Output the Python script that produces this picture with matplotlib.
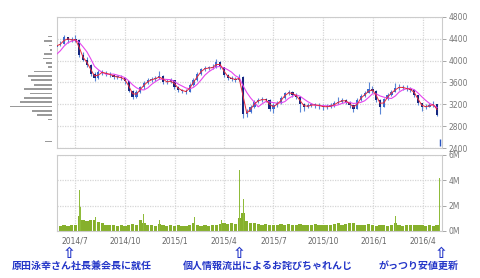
import matplotlib
matplotlib.use('Agg')
import matplotlib.pyplot as plt
import matplotlib.dates as mdates
import pandas as pd

# 週足データ (金曜終値)  最初の4週は表示範囲の手前 (移動平均用)
pre_close = [3980, 4000, 4050, 4250]
close = [4290, 4310, 4430, 4370, 4390, 4380, 4100, 4020, 3920, 3760,
         3680, 3790, 3780, 3760, 3740, 3700, 3700, 3680, 3620, 3450,
         3340, 3430, 3510, 3590, 3640, 3660, 3680, 3720, 3610, 3610,
         3640, 3520, 3470, 3440, 3430, 3560, 3650, 3760, 3840, 3865,
         3865, 3880, 3980, 3880, 3740, 3690, 3660, 3650, 3700, 3020,
         3060, 3160, 3250, 3280, 3290, 3280, 3120, 3190, 3220, 3320,
         3400, 3420, 3380, 3340, 3200, 3150, 3180, 3190, 3190, 3170,
         3150, 3160, 3170, 3220, 3250, 3280, 3250, 3180, 3120, 3280,
         3350, 3400, 3480, 3450, 3280, 3160, 3290, 3380, 3430, 3500,
         3520, 3500, 3480, 3465, 3370, 3220, 3150, 3160, 3190, 3200,
         3010]
hi = [4330, 4360, 4470, 4440, 4430, 4470, 4400, 4150, 4060, 3940,
      3790, 3820, 3830, 3810, 3790, 3760, 3740, 3730, 3700, 3630,
      3460, 3460, 3540, 3620, 3680, 3700, 3720, 3810, 3730, 3660,
      3680, 3650, 3540, 3490, 3480, 3590, 3690, 3790, 3870, 3910,
      3900, 3930, 4030, 3990, 3890, 3760, 3720, 3700, 3760, 3720,
      3110, 3190, 3280, 3320, 3330, 3320, 3290, 3220, 3260, 3350,
      3430, 3470, 3440, 3400, 3350, 3230, 3220, 3230, 3230, 3220,
      3200, 3200, 3220, 3260, 3340, 3320, 3300, 3260, 3190, 3310,
      3390, 3440, 3600, 3540, 3460, 3290, 3320, 3410, 3470, 3590,
      3570, 3560, 3560, 3510, 3480, 3380, 3230, 3200, 3230, 3260,
      3210]
lo = [4230, 4260, 4300, 4330, 4340, 4350, 4060, 3990, 3880, 3720,
      3620, 3660, 3740, 3720, 3700, 3670, 3660, 3640, 3580, 3420,
      3300, 3320, 3410, 3490, 3570, 3610, 3630, 3660, 3580, 3570,
      3590, 3490, 3430, 3400, 3390, 3420, 3540, 3630, 3740, 3810,
      3820, 3840, 3870, 3850, 3700, 3650, 3620, 3610, 3630, 2950,
      2960, 3040, 3140, 3230, 3250, 3240, 3080, 3040, 3160, 3200,
      3300, 3370, 3340, 3300, 3060, 3080, 3130, 3150, 3140, 3120,
      3100, 3110, 3130, 3160, 3200, 3230, 3200, 3140, 3060, 3120,
      3270, 3340, 3400, 3400, 3240, 3030, 3150, 3280, 3360, 3420,
      3470, 3460, 3440, 3420, 3330, 3180, 3080, 3110, 3150, 3160,
      2990]
# 最終日 (窓を開けて急落)
last_day = '2016-05-02'
last_hi, last_lo = 2560, 2440

# 出来高 (週平均, 百万株)
vol = [0.35, 0.4, 0.45, 0.4, 0.45, 0.5, 1.2, 0.9, 0.8, 0.85,
       0.9, 0.7, 0.6, 0.5, 0.45, 0.5, 0.4, 0.45, 0.4, 0.5,
       0.55, 0.5, 0.9, 0.6, 0.5, 0.45, 0.4, 0.55, 0.45, 0.4,
       0.45, 0.4, 0.45, 0.4, 0.4, 0.5, 0.6, 0.45, 0.4, 0.45,
       0.4, 0.45, 0.5, 0.55, 0.6, 0.55, 0.6, 0.55, 1.0, 1.4,
       0.8, 0.65, 0.6, 0.55, 0.5, 0.55, 0.5, 0.45, 0.5, 0.55,
       0.5, 0.55, 0.45, 0.5, 0.55, 0.5, 0.45, 0.5, 0.55, 0.45,
       0.5, 0.45, 0.5, 0.55, 0.6, 0.5, 0.55, 0.6, 0.65, 0.5,
       0.45, 0.5, 0.55, 0.45, 0.4, 0.5, 0.45, 0.4, 0.5, 0.6,
       0.45, 0.4, 0.45, 0.5, 0.45, 0.5, 0.45, 0.4, 0.45, 0.4,
       0.45]
# 出来高が突出した日
spike_days = ['2014-07-10', '2014-07-11', '2014-08-08', '2014-11-04', '2014-12-04',
              '2015-02-06', '2015-03-27', '2015-04-30', '2015-05-07', '2015-05-08',
              '2015-11-04', '2015-11-30', '2016-02-10', '2016-05-02']
spike_vol = [3.2, 1.9, 1.1, 1.35, 0.85, 1.1, 0.85, 4.8, 2.5, 1.8, 1.25, 1.5, 1.2, 4.2]

# 価格帯別出来高 (左側のグレーの棒)
prof_price = [4440, 4360, 4280, 4200, 4120, 4040, 3960, 3880, 3800, 3720, 3640,
              3560, 3480, 3400, 3320, 3240, 3160, 3080, 3000, 2920, 2520]
prof_vol = [4, 8, 3, 2, 8, 9, 6, 4, 18, 24, 21, 18, 28, 22, 28, 32, 42, 20, 15, 4, 7]

xticks = ['2014-07-01', '2014-10-01', '2015-01-01', '2015-04-01',
          '2015-07-01', '2015-10-01', '2016-01-01', '2016-04-01']
xlabels = ['2014/7', '2014/10', '2015/1', '2015/4', '2015/7', '2015/10', '2016/1', '2016/4']

notes = ['原田泳幸さん社長兼会長に就任', '個人情報流出によるお詫びちゃれんじ', 'がっつり安値更新']
note_days = ['2014-06-20', '2015-04-28', '2016-05-05']

# ---- 描画 ----
weeks = pd.date_range('2014-05-02', periods=len(pre_close) + len(close), freq='W-FRI')
xw = mdates.date2num(weeks - pd.Timedelta(days=2))
all_close = pd.Series(pre_close + close)
ma_short = all_close.rolling(2, min_periods=1).mean()
ma_long = all_close.rolling(5, min_periods=1).mean()

W, H = 480, 278
fig = plt.figure(figsize=(W / 100, H / 100), dpi=100)
ax = fig.add_axes([57 / W, 1 - 148 / H, 385 / W, 131 / H])
axv = fig.add_axes([57 / W, 1 - 231 / H, 385 / W, 76 / H])
axp = fig.add_axes([10 / W, 1 - 148 / H, 42 / W, 131 / H])

xmin = mdates.date2num(pd.Timestamp('2014-05-29'))
xmax = mdates.date2num(pd.Timestamp('2016-05-06'))
grid_kw = dict(color='#d6d6d6', linestyle=(0, (1, 1)), linewidth=0.9)
for a in (ax, axv):
    a.set_xlim(xmin, xmax)
    a.set_xticks(mdates.date2num(pd.to_datetime(xticks)))
    a.grid(True, **grid_kw)
    a.set_axisbelow(True)
    for s in a.spines.values():
        s.set_color('#cccccc')
        s.set_linewidth(0.8)
    a.yaxis.tick_right()
    a.tick_params(axis='y', length=3, width=0.6, color='#999999', labelsize=5.5,
                  labelcolor='#777777', pad=1.5)
    a.tick_params(axis='x', length=0, labelsize=5.5, labelcolor='#666666', pad=4)

# ローソク足
n0 = len(pre_close)
for i in range(len(close)):
    o = all_close[n0 + i - 1]
    c = close[i]
    x = xw[n0 + i]
    ax.vlines(x, lo[i], hi[i], color='#5a86d6', linewidth=0.8, zorder=2)
    col = '#3a6ad0' if c >= o else '#15277f'
    ax.bar(x, max(abs(c - o), 20), bottom=min(o, c), width=4.2, color=col,
           linewidth=0, zorder=3)
xl = mdates.date2num(pd.Timestamp(last_day))
ax.vlines(xl, last_lo, last_hi, color='#2a55c0', linewidth=1.0, zorder=3)

ax.plot(xw, ma_long, color='#e645ee', linewidth=0.8, zorder=4)
ax.plot(xw, ma_short, color='#e8283c', linewidth=0.7, zorder=5)
ax.set_ylim(2400, 4800)
ax.set_yticks(range(2400, 4801, 400))
ax.set_xticklabels([])

# 出来高
axv.bar(mdates.date2num(weeks[n0:] - pd.Timedelta(days=2)), vol, width=6,
        color='#86b02c', linewidth=0, zorder=2)
axv.bar(mdates.date2num(pd.to_datetime(spike_days)), spike_vol, width=1.3,
        color='#8fbb3a', linewidth=0, zorder=3)
axv.set_ylim(0, 6)
axv.set_yticks([0, 2, 4, 6])
axv.set_yticklabels([f'{v}M' for v in [0, 2, 4, 6]])
axv.set_xticklabels(xlabels)

# 価格帯別出来高
axp.barh(prof_price, prof_vol, height=30, color='#9a9a9a', linewidth=0)
axp.set_ylim(2400, 4800)
axp.set_xlim(42, 0)
axp.axis('off')

# 注記
blue = '#2436c8'
text_x = [82, 268, 419]
for note, d, tx in zip(notes, note_days, text_x):
    xd = mdates.date2num(pd.Timestamp(d))
    xf = (57 + (xd - xmin) / (xmax - xmin) * 385) / W
    fig.text(xf, 1 - 253 / H, '⇧', ha='center', va='center', fontsize=11,
             color=blue, family='DejaVu Sans', fontweight='bold')
    fig.text(tx / W, 1 - 266 / H, note, ha='center', va='center', fontsize=7.2,
             color=blue, family=['Noto Sans CJK JP', 'DejaVu Sans'], fontweight='bold')

fig.savefig('out.png', dpi=100)
